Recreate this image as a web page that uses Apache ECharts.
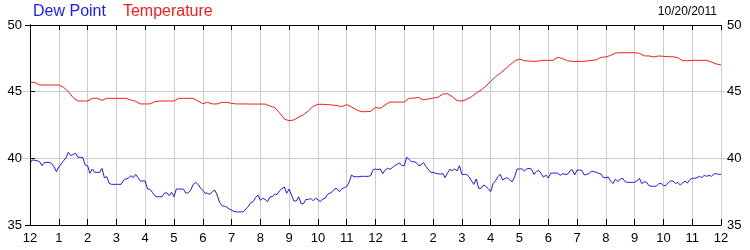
<!DOCTYPE html>
<html>
<head>
<meta charset="utf-8">
<script src="https://cdn.jsdelivr.net/npm/echarts@6/dist/echarts.min.js"></script>
<style>
html,body{margin:0;padding:0;background:#fff;}
#chart{width:750px;height:250px;}
</style>
</head>
<body>
<div id="chart"></div>
<script>
// ---- data ----
var dateLabel = '10/20/2011';
var seriesNames = ['Dew Point', 'Temperature'];
var hourLabels = ['12','1','2','3','4','5','6','7','8','9','10','11','12','1','2','3','4','5','6','7','8','9','10','11','12'];
var yTicks = [35, 40, 45, 50];
var outerGridStubs = [40, 45];
var dewStepMinutes = 5;
var tempStepMinutes = 10;

var dewPoint = [
  39.62, 39.88, 39.85, 39.82, 39.75, 39.45, 39.68, 39.7, 39.7, 39.6, 39.38, 39.0,
  39.35, 39.58, 39.82, 40.05, 40.45, 40.2, 40.3, 40.38, 40.08, 40.08, 40.05, 39.5,
  39.45, 38.88, 39.2, 38.95, 38.95, 38.95, 39.25, 38.55, 38.62, 38.12, 38.05, 38.05,
  38.05, 38.05, 38.05, 38.35, 38.45, 38.5, 38.7, 38.55, 38.8, 38.55, 38.3, 38.3,
  38.3, 37.7, 37.68, 37.45, 37.2, 37.12, 37.12, 37.12, 37.38, 37.42, 37.2, 37.45,
  37.12, 37.7, 37.7, 37.7, 37.68, 37.38, 37.42, 37.62, 38.05, 38.2, 38.05, 37.8,
  37.6, 37.38, 37.38, 37.3, 37.5, 37.62, 37.25, 36.7, 36.45, 36.4, 36.35, 36.2,
  36.12, 36.02, 35.98, 35.98, 35.98, 36.0, 36.2, 36.4, 36.68, 36.75, 37.05, 37.25,
  36.85, 37.0, 36.92, 36.75, 37.1, 37.12, 37.32, 37.3, 37.57, 37.72, 37.85, 37.38,
  37.7, 37.25, 36.8, 36.8, 37.12, 36.6, 36.6, 36.92, 36.9, 37.0, 36.82, 37.0,
  36.9, 36.75, 36.95, 37.0, 37.3, 37.38, 37.5, 37.72, 37.72, 37.5, 37.72, 37.8,
  37.88, 38.2, 38.75, 38.62, 38.62, 38.62, 38.65, 38.65, 38.65, 38.65, 38.7, 39.15,
  39.2, 39.15, 39.2, 38.85, 39.12, 39.25, 39.18, 39.3, 39.45, 39.55, 39.65, 39.45,
  39.45, 40.08, 39.92, 39.75, 39.75, 39.68, 39.45, 39.5, 39.68, 39.4, 39.18, 38.95,
  38.95, 38.88, 38.85, 38.8, 38.88, 38.55, 38.9, 39.18, 39.08, 39.2, 39.05, 39.45,
  38.8, 38.8, 38.78, 38.62, 38.3, 38.05, 38.45, 37.75, 37.75, 38.0, 37.9, 37.72,
  37.5, 38.1, 38.32, 38.62, 38.8, 38.38, 38.5, 38.55, 38.35, 38.25, 38.62, 39.2,
  39.2, 39.22, 39.05, 39.2, 39.25, 39.2, 38.8, 39.0, 39.1, 38.88, 38.58, 38.75,
  38.52, 38.88, 38.9, 38.9, 38.88, 38.72, 38.85, 38.8, 38.8, 39.05, 39.15, 38.75,
  39.12, 39.12, 39.1, 38.75, 38.8, 38.85, 39.05, 39.0, 38.95, 38.88, 38.82, 38.55,
  38.55, 38.6, 38.3, 38.1, 38.45, 38.25, 38.45, 38.5, 38.25, 38.2, 38.2, 38.2,
  38.2, 38.32, 38.5, 38.1, 38.25, 38.2, 37.95, 37.9, 37.9, 37.92, 38.08, 38.12,
  37.95, 37.95, 38.18, 38.3, 38.3, 38.1, 38.2, 38.0, 38.15, 38.3, 38.15, 38.4,
  38.5, 38.5, 38.55, 38.65, 38.55, 38.72, 38.65, 38.72, 38.65, 38.82, 38.85, 38.8, 38.8
];

var temperature = [
  45.7, 45.7, 45.5, 45.5, 45.5, 45.5, 45.5, 45.32, 45.0, 44.55, 44.3, 44.3,
  44.3, 44.5, 44.5, 44.35, 44.5, 44.5, 44.5, 44.5, 44.5, 44.38, 44.28, 44.08,
  44.08, 44.08, 44.25, 44.3, 44.3, 44.3, 44.3, 44.5, 44.5, 44.5, 44.5, 44.3,
  44.1, 44.2, 44.08, 44.08, 44.2, 44.2, 44.12, 44.08, 44.08, 44.08, 44.07, 44.07,
  44.07, 44.07, 43.92, 43.8, 43.42, 42.95, 42.82, 42.88, 43.1, 43.27, 43.55, 43.9,
  44.05, 44.05, 44.03, 44.0, 43.95, 43.88, 44.03, 43.85, 43.65, 43.5, 43.5, 43.52,
  43.82, 43.75, 44.0, 44.22, 44.22, 44.22, 44.22, 44.5, 44.52, 44.57, 44.38, 44.45,
  44.52, 44.57, 44.82, 44.85, 44.62, 44.33, 44.3, 44.42, 44.62, 44.9, 45.12, 45.42,
  45.77, 46.12, 46.38, 46.68, 47.0, 47.3, 47.45, 47.32, 47.3, 47.27, 47.3, 47.35,
  47.35, 47.35, 47.58, 47.48, 47.32, 47.27, 47.27, 47.27, 47.3, 47.35, 47.38, 47.58,
  47.6, 47.72, 47.9, 47.92, 47.92, 47.92, 47.92, 47.88, 47.68, 47.68, 47.6, 47.68,
  47.65, 47.62, 47.62, 47.55, 47.32, 47.32, 47.35, 47.35, 47.35, 47.35, 47.22, 47.08, 47.0
];

// ---- build chart ----
function toPairs(values, stepMinutes) {
  return values.map(function (v, i) { return [i * stepMinutes / 60, v]; });
}

var FONT = "'Liberation Sans', Arial, sans-serif";
var BLACK = '#000000';
var GRID = '#cccccc';
var yMin = yTicks[0], yMax = yTicks[yTicks.length - 1], yStep = yTicks[1] - yTicks[0];
var xMax = hourLabels.length - 1;

function yAxisMain(pos, margin, split) {
  return {
    type: 'value', position: pos, min: yMin, max: yMax, interval: yStep,
    axisLine: { show: true, lineStyle: { color: BLACK, width: 1 } },
    axisTick: { show: true, inside: true, length: 5, lineStyle: { color: BLACK } },
    axisLabel: { show: true, color: BLACK, fontSize: 13, fontFamily: FONT, margin: margin },
    splitLine: { show: split, lineStyle: { color: GRID, width: 1 } }
  };
}
function yAxisStub(pos) {
  return {
    type: 'value', position: pos, min: yMin, max: yMax, interval: yStep,
    axisLine: { show: false },
    axisTick: { show: true, inside: false, length: 8, customValues: outerGridStubs, lineStyle: { color: GRID } },
    axisLabel: { show: false },
    splitLine: { show: false }
  };
}

var chart = echarts.init(document.getElementById('chart'), null, { renderer: 'canvas' });
chart.setOption({
  animation: false,
  backgroundColor: '#ffffff',
  textStyle: { fontFamily: FONT },
  title: {
    text: dateLabel, right: 33, top: 6, padding: 0,
    textStyle: { fontSize: 12, fontWeight: 'normal', color: BLACK, fontFamily: FONT }
  },
  legend: {
    left: 28, top: 4, padding: 0, icon: 'none', itemWidth: 0, itemGap: 12,
    selectedMode: false,
    data: [
      { name: seriesNames[0], textStyle: { color: '#1a1aff', fontSize: 16, fontFamily: FONT } },
      { name: seriesNames[1], textStyle: { color: '#ff1a1a', fontSize: 16, fontFamily: FONT } }
    ]
  },
  grid: { left: 30, right: 29, top: 25, bottom: 25, containLabel: false },
  xAxis: [
    {
      type: 'value', position: 'bottom', min: 0, max: xMax, interval: 1,
      axisLine: { show: true, onZero: false, lineStyle: { color: BLACK } },
      axisTick: { show: true, inside: true, length: 6, lineStyle: { color: BLACK } },
      axisLabel: {
        color: BLACK, fontSize: 13, fontFamily: FONT, margin: 7,
        showMinLabel: true, showMaxLabel: true,
        formatter: function (v) { return hourLabels[Math.round(v)]; }
      },
      splitLine: { show: true, lineStyle: { color: GRID, width: 1 } }
    },
    {
      type: 'value', position: 'top', min: 0, max: xMax, interval: 1,
      axisLine: { show: true, onZero: false, lineStyle: { color: BLACK } },
      axisTick: { show: true, inside: true, length: 5, lineStyle: { color: BLACK } },
      axisLabel: { show: false },
      splitLine: { show: false }
    }
  ],
  yAxis: [
    yAxisMain('left', 8, true),
    yAxisMain('right', 6, false),
    yAxisStub('left'),
    yAxisStub('right')
  ],
  series: [
    {
      name: seriesNames[0], type: 'line', xAxisIndex: 0, yAxisIndex: 0,
      data: toPairs(dewPoint, dewStepMinutes),
      showSymbol: false, symbol: 'none',
      lineStyle: { color: '#1a1aff', width: 1 }, itemStyle: { color: '#1a1aff' },
      z: 3
    },
    {
      name: seriesNames[1], type: 'line', xAxisIndex: 0, yAxisIndex: 0,
      data: toPairs(temperature, tempStepMinutes),
      showSymbol: false, symbol: 'none',
      lineStyle: { color: '#ff1a1a', width: 1 }, itemStyle: { color: '#ff1a1a' },
      z: 3
    }
  ]
});
</script>
</body>
</html>
